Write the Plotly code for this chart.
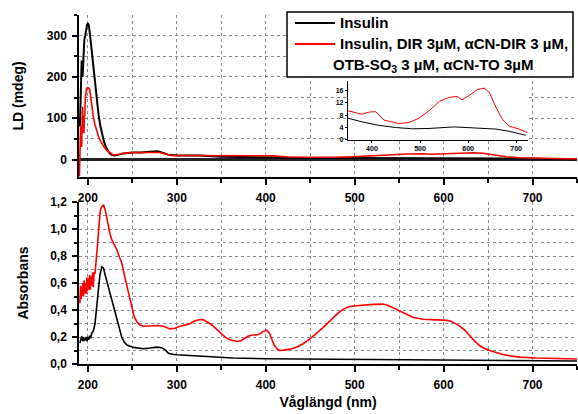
import plotly.graph_objects as go

# ---------------- data ----------------
# LD (mdeg) – Insulin
ld_black_nm = [191, 192, 193, 194, 195, 196, 197, 198, 199, 200, 201, 202, 204, 206, 208, 210, 212, 214, 216, 218,
               220, 222, 224, 226, 228, 230, 235, 240, 250, 260, 270, 278, 285, 290, 300, 325, 350, 380, 414, 449,
               484, 519, 571, 600, 623, 658, 685, 705, 720, 750]
ld_black = [80, 150, 240, 200, 250, 290, 300, 318, 326, 330, 325, 310, 270, 225, 180, 140, 108, 82, 60, 44,
            32, 23, 16, 12, 10, 10, 12, 15, 17, 17, 19, 20, 16, 12, 10, 10, 7, 5.8, 4.7, 4.0,
            3.6, 3.7, 4.2, 4.0, 3.8, 3.5, 2.8, 2.0, 1.5, 1.0]

# LD (mdeg) – Insulin + dyes
ld_red_nm = [190.5, 191, 191.8, 192.5, 193, 193.5, 194, 194.8, 195.5, 196, 196.6, 197.2, 197.7, 198.5, 199.6, 201,
             202, 203, 204.5, 206, 208, 210, 212, 214, 216, 218, 221, 224, 227, 230, 235, 240, 251, 270, 280, 287,
             293, 310, 326, 350, 379, 395, 408, 425, 456, 477, 498, 519, 540, 560, 577, 587, 602, 619, 633, 644,
             658, 671, 685, 706, 723, 750]
ld_red = [-40, 20, 80, 40, 31, 90, 128, 70, 64, 100, 112, 150, 169, 172, 174, 173,
          170, 150, 128, 105, 84, 68, 56, 46, 38, 31, 23, 17, 13, 11, 13, 15, 17, 18, 17, 14,
          10, 10, 10, 9.4, 8.3, 9.0, 9.1, 6.4, 5.3, 5.6, 7.0, 9.4, 12.4, 13.7, 14.0, 12.9, 14.3, 16.2, 16.7, 15.4,
          10.5, 6.7, 4.5, 3.5, 2.4, 1.5]

# Absorbance – Insulin
abs_black_nm = [191, 192, 193, 194, 195, 196, 197, 198, 199, 200, 201, 202, 203, 204.5, 206, 208, 210, 212, 213.5,
                215.7, 217.6, 219, 221, 224, 227, 230, 232.6, 235, 238, 241, 244, 251, 262.5, 270, 277.5, 283, 287,
                290.6, 295, 300, 326, 363, 400, 437, 500, 600, 750]
abs_black = [0.155, 0.19, 0.205, 0.17, 0.2, 0.175, 0.18, 0.2, 0.17, 0.2, 0.18, 0.21, 0.19, 0.23, 0.24, 0.30, 0.43,
             0.58, 0.66, 0.72, 0.71, 0.67, 0.62, 0.55, 0.475, 0.40, 0.33, 0.27, 0.20, 0.16, 0.14, 0.123, 0.113,
             0.118, 0.125, 0.12, 0.105, 0.08, 0.072, 0.069, 0.057, 0.044, 0.039, 0.037, 0.032, 0.027, 0.022]

# Absorbance – Insulin + dyes
abs_red_nm = [191, 191.7, 192.3, 193, 193.7, 194.3, 195, 195.8, 196.5, 197.2, 198, 198.8, 199.5, 200.3, 201, 202,
              202.8, 203.5, 204.5, 205.3, 206, 207, 208, 209, 210, 211, 212, 213, 214, 215.7, 217.6, 219.5, 221,
              223, 225, 227, 230, 232.6, 235, 238, 241, 244, 247, 249.6, 252, 255, 258, 262.5, 270, 277.5, 285,
              289, 292.5, 298, 303.5, 310, 315, 320, 326, 330, 333.7, 337, 341, 346, 350.6, 355, 360, 367.4, 372,
              375, 380, 385, 390, 394, 397, 401, 404, 407, 410, 413, 416, 420, 427, 434.5, 442, 449.4, 457, 464.4,
              470, 475.6, 481, 486.9, 492, 498, 505, 513, 522, 531.8, 537, 543, 550, 558, 566, 576.7, 584, 591.8,
              600, 606.7, 612, 618, 624, 629, 635, 640.4, 646, 651.7, 659, 666.6, 675, 685.4, 704, 726.6, 750]
abs_red = [0.45, 0.58, 0.48, 0.57, 0.5, 0.6, 0.5, 0.62, 0.52, 0.6, 0.52, 0.64, 0.54, 0.635, 0.55, 0.66,
           0.55, 0.65, 0.58, 0.68, 0.57, 0.68, 0.67, 0.73, 0.8, 0.9, 0.99, 1.08, 1.14, 1.165, 1.18, 1.14, 1.09,
           1.02, 0.96, 0.92, 0.88, 0.845, 0.8, 0.75, 0.66, 0.57, 0.48, 0.40, 0.35, 0.315, 0.29, 0.28, 0.283,
           0.285, 0.28, 0.27, 0.26, 0.265, 0.28, 0.29, 0.30, 0.318, 0.33, 0.328, 0.315, 0.30, 0.28, 0.25, 0.217,
           0.195, 0.18, 0.167, 0.172, 0.185, 0.205, 0.215, 0.215, 0.225, 0.24, 0.25, 0.23, 0.18, 0.135, 0.11,
           0.10, 0.103, 0.11, 0.124, 0.15, 0.185, 0.225, 0.27, 0.305, 0.344, 0.375, 0.405, 0.42, 0.43, 0.435,
           0.44, 0.442, 0.444, 0.435, 0.417, 0.395, 0.368, 0.345, 0.332, 0.328, 0.327, 0.325, 0.32, 0.305, 0.283,
           0.25, 0.21, 0.17, 0.137, 0.115, 0.10, 0.083, 0.071, 0.06, 0.051, 0.044, 0.039, 0.037]

inset_lo, inset_hi = 350, 725
legend_lines = ["Insulin", "Insulin, DIR 3µM, αCN-DIR 3 µM,", "OTB-SO<sub>3</sub> 3 µM, αCN-TO 3µM"]

# ---------------- figure ----------------
FONT = "Liberation Sans, Arial, sans-serif"
BLACK = "#000000"
RED = "#ff0000"
GRID = "#8a8a8a"

def sub(xs, ys):
    pts = [(x, y) for x, y in zip(xs, ys) if inset_lo <= x <= inset_hi]
    return [p[0] for p in pts], [p[1] for p in pts]

fig = go.Figure()
fig.add_trace(go.Scatter(x=ld_black_nm, y=ld_black, mode="lines", name="Insulin",
                         line=dict(color=BLACK, width=2), xaxis="x", yaxis="y"))
fig.add_trace(go.Scatter(x=ld_red_nm, y=ld_red, mode="lines", name="Insulin + dyes",
                         line=dict(color=RED, width=1.6), xaxis="x", yaxis="y"))
fig.add_trace(go.Scatter(x=abs_black_nm, y=abs_black, mode="lines",
                         line=dict(color=BLACK, width=1.6), xaxis="x2", yaxis="y2"))
fig.add_trace(go.Scatter(x=abs_red_nm, y=abs_red, mode="lines",
                         line=dict(color=RED, width=1.6), xaxis="x2", yaxis="y2"))
bx, by = sub(ld_black_nm, ld_black)
rx, ry = sub(ld_red_nm, ld_red)
fig.add_trace(go.Scatter(x=bx, y=by, mode="lines",
                         line=dict(color=BLACK, width=1), xaxis="x3", yaxis="y3"))
fig.add_trace(go.Scatter(x=rx, y=ry, mode="lines",
                         line=dict(color=RED, width=1), xaxis="x3", yaxis="y3"))

tickfont = dict(family=FONT, size=12, color=BLACK, weight="bold")
titlefont = dict(family=FONT, size=14, color=BLACK, weight="bold")

def xax(anchor, title=None):
    d = dict(domain=[0, 1], anchor=anchor, range=[190, 750], tickvals=[200, 300, 400, 500, 600, 700],
             showline=True, linecolor=BLACK, linewidth=1.5, ticks="outside", ticklen=6, tickwidth=1.5,
             tickcolor=BLACK, tickfont=tickfont, ticklabelstandoff=3,
             showgrid=True, gridcolor=GRID, griddash="dot", gridwidth=1, zeroline=False,
             minor=dict(tickvals=[250, 350, 450, 550, 650, 750], ticks="outside", ticklen=4, tickwidth=1.5,
                        tickcolor=BLACK, showgrid=True, gridcolor=GRID, griddash="dot", gridwidth=1))
    if title:
        d["title"] = dict(text=title, font=titlefont, standoff=6)
    return d

top_dom = [0.536, 1.0]
bot_dom = [0.0, 0.464]

# paper-coordinate helpers for the legend box (plot area: x 79..577 px, y 15..364 px)
def px(x):
    return (x - 79) / 498.0

def py(y):
    return (364 - y) / 349.0

shapes = [
    dict(type="rect", xref="paper", yref="paper", x0=px(287), x1=px(573), y0=py(77), y1=py(12),
         line=dict(color=BLACK, width=1.5), fillcolor="white", layer="above"),
    dict(type="line", xref="paper", yref="paper", x0=px(295), x1=px(335), y0=py(23), y1=py(23),
         line=dict(color=BLACK, width=2), layer="above"),
    dict(type="line", xref="paper", yref="paper", x0=px(295), x1=px(335), y0=py(44), y1=py(44),
         line=dict(color=RED, width=2), layer="above"),
]
legfont = dict(family=FONT, size=15, color=BLACK, weight="bold")
annotations = [
    dict(text=legend_lines[0], xref="paper", yref="paper", x=px(338), y=py(23), xanchor="left",
         yanchor="middle", showarrow=False, font=legfont),
    dict(text=legend_lines[1], xref="paper", yref="paper", x=px(338), y=py(44), xanchor="left",
         yanchor="middle", showarrow=False, font=legfont),
    dict(text=legend_lines[2], xref="paper", yref="paper", x=px(331), y=py(65), xanchor="left",
         yanchor="middle", showarrow=False, font=legfont),
]

fig.update_layout(
    width=578, height=414,
    margin=dict(l=79, r=1, t=15, b=50),
    paper_bgcolor="white", plot_bgcolor="white",
    separators=", ",
    showlegend=False,
    font=dict(family=FONT, color=BLACK),
    shapes=shapes,
    annotations=annotations,
    xaxis=xax("y"),
    xaxis2=xax("y2", "Våglängd (nm)"),
    yaxis=dict(domain=top_dom, anchor="x", range=[-42, 350], tickvals=[0, 100, 200, 300],
               showline=True, linecolor=BLACK, linewidth=1.5, ticks="outside", ticklen=5, tickwidth=1.5,
               tickcolor=BLACK, tickfont=tickfont, ticklabelstandoff=3,
               showgrid=True, gridcolor=GRID, griddash="dot",
               zeroline=True, zerolinecolor="#222222", zerolinewidth=2.5,
               minor=dict(tickvals=[50, 150, 250, 350], ticks="outside", ticklen=3, tickwidth=1.5,
                          tickcolor=BLACK, showgrid=True, gridcolor=GRID, griddash="dot"),
               title=dict(text="LD (mdeg)", font=titlefont, standoff=20)),
    yaxis2=dict(domain=bot_dom, anchor="x2", range=[0, 1.2], tickvals=[0, 0.2, 0.4, 0.6, 0.8, 1.0, 1.2],
                tickformat=".1f",
                showline=True, linecolor=BLACK, linewidth=1.5, ticks="outside", ticklen=5, tickwidth=1.5,
                tickcolor=BLACK, tickfont=tickfont, ticklabelstandoff=3,
                showgrid=True, gridcolor=GRID, griddash="dot", zeroline=False,
                minor=dict(tickvals=[0.1, 0.3, 0.5, 0.7, 0.9, 1.1], ticks="outside", ticklen=3, tickwidth=1.5,
                           tickcolor=BLACK, showgrid=True, gridcolor=GRID, griddash="dot"),
                title=dict(text="Absorbans", font=titlefont, standoff=18)),
    xaxis3=dict(domain=[0.540, 0.902], anchor="y3", range=[inset_lo, inset_hi],
                tickvals=[400, 500, 600, 700], showline=True, linecolor=BLACK, linewidth=1,
                ticks="outside", ticklen=2, tickcolor=BLACK, showgrid=False, zeroline=False,
                tickfont=dict(family=FONT, size=7, color=BLACK, weight="bold")),
    yaxis3=dict(domain=[0.642, 0.811], anchor="x3", range=[0, 19], tickvals=[0, 4, 8, 12, 16],
                showline=True, linecolor=BLACK, linewidth=1, ticks="outside", ticklen=2, tickcolor=BLACK,
                showgrid=False, zeroline=False,
                tickfont=dict(family=FONT, size=7, color=BLACK, weight="bold")),
)

fig.write_html("out.html")
